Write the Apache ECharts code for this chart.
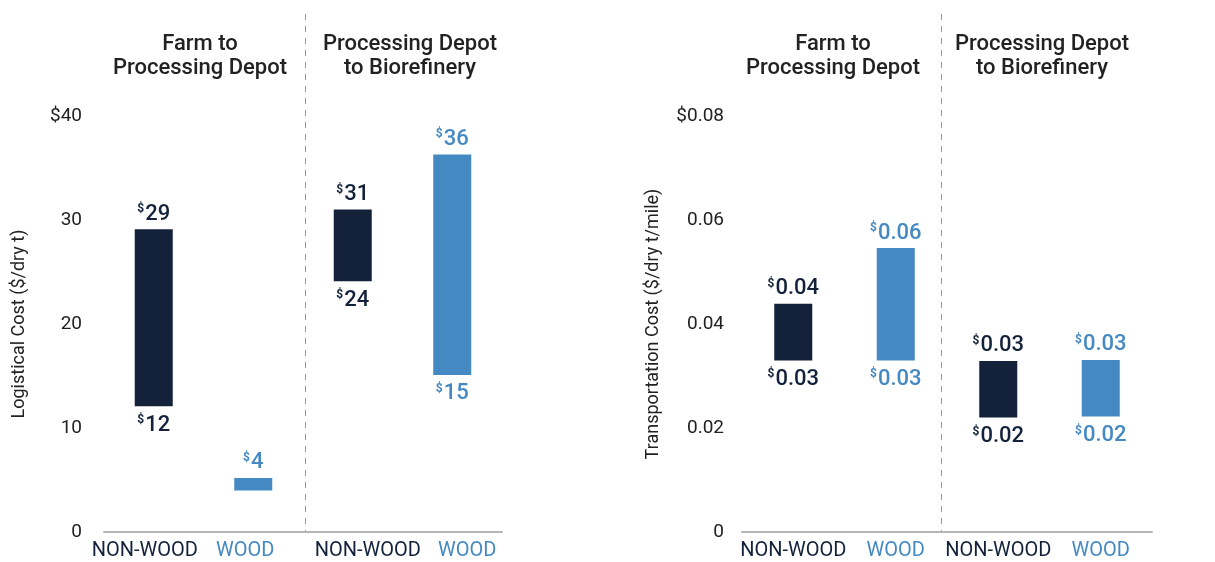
<!DOCTYPE html>
<html><head><meta charset="utf-8">
<script src="https://cdn.jsdelivr.net/npm/echarts@6/dist/echarts.min.js"></script>
<style>html,body{margin:0;padding:0;background:#fff}#c{width:1215px;height:562px}</style>
</head><body><div id="c"></div>
<script>
// ---- data ----
const categories = ['NON-WOOD', 'WOOD', 'NON-WOOD', 'WOOD'];
const sections = ['Farm to\nProcessing Depot', 'Processing Depot\nto Biorefinery'];
const logLow = [12.1, 4.0, 24.1, 15.1];
const logHigh = [29.1, 5.2, 31.0, 36.3];
const logTopLabels = ['29', '4', '31', '36'];
const logBottomLabels = ['12', '', '24', '15'];
const transLow = [0.033, 0.033, 0.022, 0.0222];
const transHigh = [0.0439, 0.0546, 0.0329, 0.0331];
const transTopLabels = ['0.04', '0.06', '0.03', '0.03'];
const transBottomLabels = ['0.03', '0.03', '0.02', '0.02'];
const logTicks = {min: 0, max: 40, interval: 10};
const transTicks = {min: 0, max: 0.08, interval: 0.02};

// ---- styles ----
const DARK = '#13223A', BLUE = '#4589C2';
const catColors = [DARK, BLUE, DARK, BLUE];
const FONT = 'Roboto';
const rich = {
  s: {fontSize: 12, fontWeight: 'bold', fontFamily: FONT, verticalAlign: 'top', lineHeight: 24, padding: [1, 1, 0, 0]},
  n: {fontSize: 22, fontWeight: 500, fontFamily: FONT, lineHeight: 24}
};
function richFor(color) {
  return {s: Object.assign({}, rich.s, {color}), n: Object.assign({}, rich.n, {color})};
}

function panelSeries(idx, low, high, topLabels, bottomLabels) {
  const base = low.map((v, i) => ({
    value: v,
    label: {
      show: bottomLabels[i] !== '',
      formatter: bottomLabels[i] ? '{s|$}{n|' + bottomLabels[i] + '}' : '',
      rich: richFor(catColors[i])
    }
  }));
  const range = high.map((v, i) => ({
    value: +(v - low[i]).toFixed(6),
    itemStyle: {color: catColors[i]},
    label: {
      show: true,
      formatter: '{s|$}{n|' + topLabels[i] + '}',
      rich: richFor(catColors[i])
    }
  }));
  return [
    {type: 'bar', xAxisIndex: idx, yAxisIndex: idx, stack: 'p' + idx, barWidth: 38, data: base,
     itemStyle: {color: 'rgba(0,0,0,0)'}, label: {position: 'insideTop', distance: 7}, silent: true},
    {type: 'bar', xAxisIndex: idx, yAxisIndex: idx, stack: 'p' + idx, barWidth: 38, data: range,
     label: {position: 'top', distance: 3}}
  ];
}

// small horizontal nudges of the category labels (layout only)
const labelShift = [[-9, -8, 15, 15], [0, 0, 0, 0]];
function xAxis(gi) {
  const r = {};
  categories.forEach((c, i) => {
    const s = labelShift[gi][i];
    r['c' + i] = {color: catColors[i], fontFamily: FONT, fontSize: 20,
      padding: s < 0 ? [0, -2 * s, 0, 0] : [0, 0, 0, 2 * s]};
  });
  return {
    type: 'category', gridIndex: gi, data: categories,
    axisLine: {lineStyle: {color: '#B3B8B6', width: 2}},
    axisTick: {show: false},
    axisLabel: {interval: 0, margin: 9, formatter: (v, i) => '{c' + i + '|' + v + '}', rich: r}
  };
}
function yAxis(gi, ticks, name, fmt, margin, nameGap) {
  return {
    type: 'value', gridIndex: gi, min: ticks.min, max: ticks.max, interval: ticks.interval,
    name: name, nameLocation: 'middle', nameGap: nameGap,
    nameTextStyle: {fontFamily: FONT, fontSize: 18, color: '#222'},
    axisLine: {show: false}, axisTick: {show: false}, splitLine: {show: false},
    axisLabel: {formatter: fmt, fontFamily: FONT, fontSize: 19, color: '#222', margin: margin}
  };
}

const titleStyle = {fontFamily: FONT, fontSize: 22, fontWeight: 500, color: '#222', lineHeight: 24};
const titlePos = [195, 405, 828, 1037];
const titles = titlePos.map((x, i) => ({
  text: sections[i % 2], left: x, top: 27, textAlign: 'center', textStyle: titleStyle
}));

const chart = echarts.init(document.getElementById('c'), null, {renderer: 'canvas'});
chart.setOption({
  animation: false,
  title: titles,
  grid: [
    {left: 104, width: 398, top: 116, bottom: 30},
    {left: 742, width: 410, top: 116, bottom: 30}
  ],
  xAxis: [xAxis(0), xAxis(1)],
  yAxis: [
    yAxis(0, logTicks, 'Logistical Cost ($/dry t)', v => v === logTicks.max ? '$' + v : String(v), 22, 76),
    yAxis(1, transTicks, 'Transportation Cost ($/dry t/mile)',
      v => v === 0 ? '0' : (Math.abs(v - transTicks.max) < 1e-9 ? '$' + v.toFixed(2) : v.toFixed(2)), 18, 80)
  ],
  series: [].concat(
    panelSeries(0, logLow, logHigh, logTopLabels, logBottomLabels),
    panelSeries(1, transLow, transHigh, transTopLabels, transBottomLabels)
  ),
  graphic: [
    {type: 'line', shape: {x1: 305.5, y1: 14, x2: 305.5, y2: 531}, style: {stroke: '#9A9A9A', lineWidth: 1, lineDash: [6, 6]}, silent: true},
    {type: 'line', shape: {x1: 941.5, y1: 14, x2: 941.5, y2: 531}, style: {stroke: '#9A9A9A', lineWidth: 1, lineDash: [6, 6]}, silent: true}
  ]
});
</script>
</body></html>
